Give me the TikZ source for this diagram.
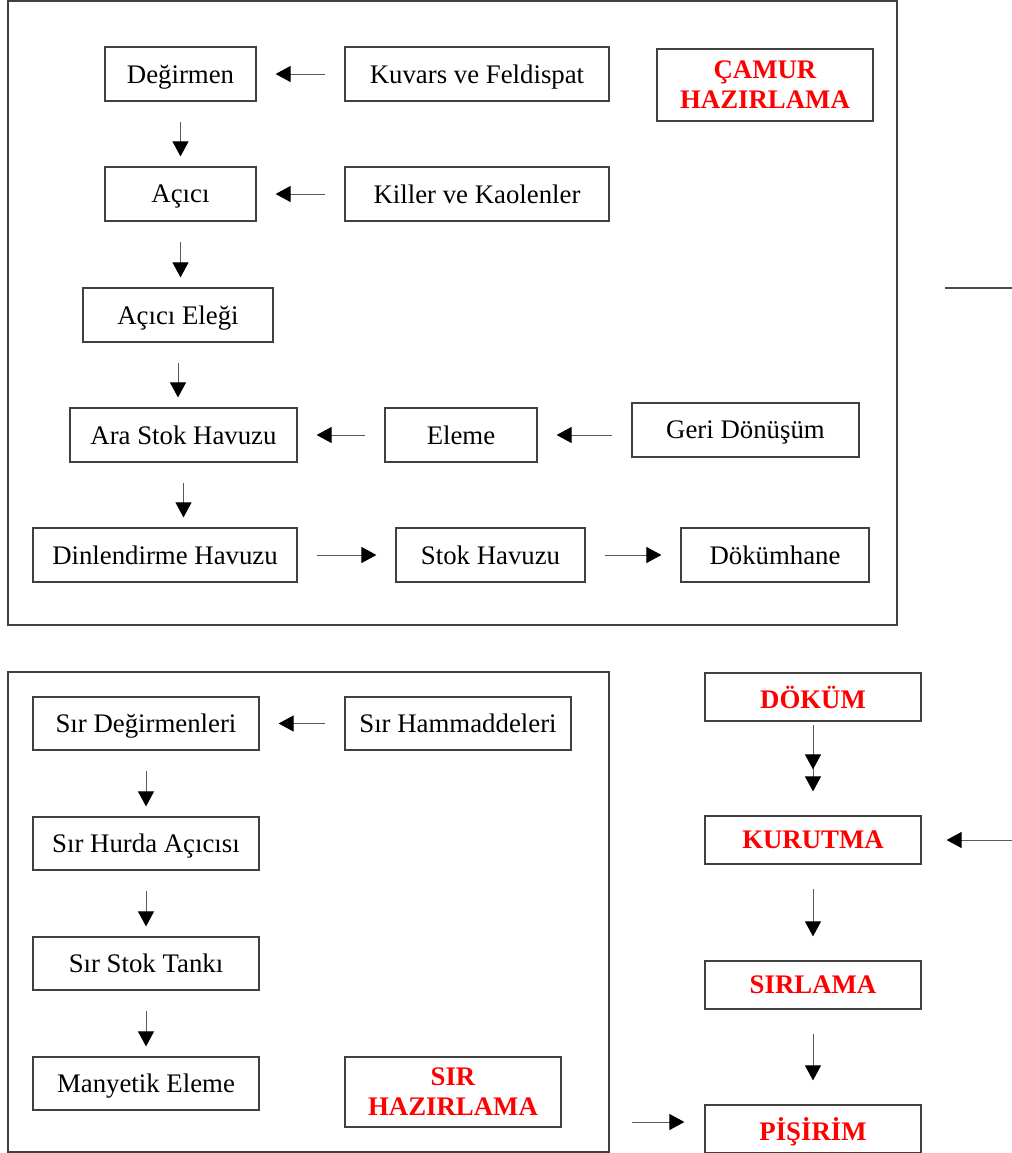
\documentclass[tikz,border=0pt]{standalone}
\usepackage{fontspec}
\setmainfont{Liberation Serif}
\usetikzlibrary{arrows.meta}

\begin{document}
\begin{tikzpicture}
    [
    x = 0.5pt, y = -0.5pt,
    every node/.style = {font=\fontsize{13.4}{15}\selectfont},
    stage/.style      = {draw=black!75, line width=0.6pt, inner sep=0pt, minimum height=27pt, text depth=0pt},
    title/.style      = {stage, text=red, align=center, font=\fontsize{13.4}{15}\selectfont\bfseries},
    frame/.style      = {draw=black!75, line width=0.6pt},
    tip/.style        = {-{Triangle[length=7.5pt, width=8pt, color=black]}, draw=black!65, line width=0.5pt},
    feed/.style       = {tip, shorten <=9.5pt, shorten >=9.5pt},
    flow/.style       = {tip, shorten <=10pt, shorten >=5pt},
    stageflow/.style  = {tip, shorten <=12pt, shorten >=12pt}
    ]
    \useasboundingbox (0,0) rectangle (1012,1153);

    \draw [frame] (8,1) rectangle (897,625);
    \draw [frame] (8,672) rectangle (609,1152);

    \node [stage, minimum width=75.5pt] (degirmen) at (180.5,74) {Değirmen};
    \node [stage, minimum width=132pt] (kuvars) at (477,74) {Kuvars ve Feldispat};
    \node [title, minimum width=108pt, minimum height=36pt] (camur) at (765,85) {ÇAMUR\\HAZIRLAMA};
    \node [stage, minimum width=75.5pt] (acici) at (180.5,194) {Açıcı};
    \node [stage, minimum width=132pt] (killer) at (477,194) {Killer ve Kaolenler};
    \node [stage, minimum width=95pt] (elek) at (178,315) {Açıcı Eleği};
    \node [stage, minimum width=113.5pt] (arastok) at (183.5,435) {Ara Stok Havuzu};
    \node [stage, minimum width=76pt] (eleme) at (461,435) {Eleme};
    \node [stage, minimum width=113.5pt] (geri) at (745.5,430) {Geri Dönüşüm};
    \node [stage, minimum width=132pt] (dinlen) at (165,555) {Dinlendirme Havuzu};
    \node [stage, minimum width=94.5pt] (stok) at (490.5,555) {Stok Havuzu};
    \node [stage, minimum width=94pt] (dokumhane) at (775,555) {Dökümhane};

    \draw [feed] (kuvars) -- (degirmen);
    \draw [feed] (killer) -- (acici);
    \draw [flow] (degirmen) -- (acici);
    \draw [flow] (acici.south) -- (acici.south |- elek.north);
    \draw [flow] (elek.south) -- (elek.south |- arastok.north);
    \draw [feed] (eleme) -- (arastok);
    \draw [feed] (geri.west |- eleme) -- (eleme);
    \draw [flow] (arastok.south) -- (arastok.south |- dinlen.north);
    \draw [feed] (dinlen) -- (stok);
    \draw [feed] (stok) -- (dokumhane);

    \coordinate (cut1) at (945,288);
    \coordinate (cut2) at (1012,288);
    \draw [draw=black!70, line width=0.6pt] (cut1) -- (cut2);

    \node [stage, minimum width=113pt, minimum height=26.5pt] (sirdeg) at (146,723.5) {Sır Değirmenleri};
    \node [stage, minimum width=113pt, minimum height=26.5pt] (sirham) at (458,723.5) {Sır Hammaddeleri};
    \node [stage, minimum width=113pt, minimum height=26.5pt] (hurda) at (146,843.5) {Sır Hurda Açıcısı};
    \node [stage, minimum width=113pt, minimum height=26.5pt] (tank) at (146,963.5) {Sır Stok Tankı};
    \node [stage, minimum width=113pt, minimum height=26.5pt] (manyetik) at (146,1083.5) {Manyetik Eleme};
    \node [title, minimum width=108pt, minimum height=35pt] (sirhaz) at (453,1092) {SIR\\HAZIRLAMA};

    \draw [feed] (sirham) -- (sirdeg);
    \draw [flow] (sirdeg) -- (hurda);
    \draw [flow] (hurda) -- (tank);
    \draw [flow] (tank) -- (manyetik);

    \node [title, minimum width=108pt, minimum height=24pt] (dokum) at (813,697) {DÖKÜM};
    \node [title, minimum width=108pt, minimum height=24pt] (kurutma) at (813,840) {KURUTMA};
    \node [title, minimum width=108pt, minimum height=24pt] (sirlama) at (813,985) {SIRLAMA};
    \node [title, minimum width=108pt, minimum height=24pt] (pisirim) at (813,1129) {PİŞİRİM};

    \draw [-{Triangle[length=7.5pt, width=8pt, color=black, sep=3.5pt]Triangle[length=7.5pt, width=8pt, color=black]},
           draw=black!65, line width=0.5pt, shorten <=1.5pt, shorten >=12pt] (dokum) -- (kurutma);
    \draw [stageflow] (kurutma) -- (sirlama);
    \draw [stageflow] (sirlama) -- (pisirim);

    \coordinate (in1) at (1012,840);
    \coordinate (in2) at (632,1122);
    \draw [tip, shorten >=12.5pt] (in1) -- (kurutma);
    \draw [tip, shorten >=10pt] (in2) -- (in2 -| pisirim.west);
\end{tikzpicture}
\end{document}
